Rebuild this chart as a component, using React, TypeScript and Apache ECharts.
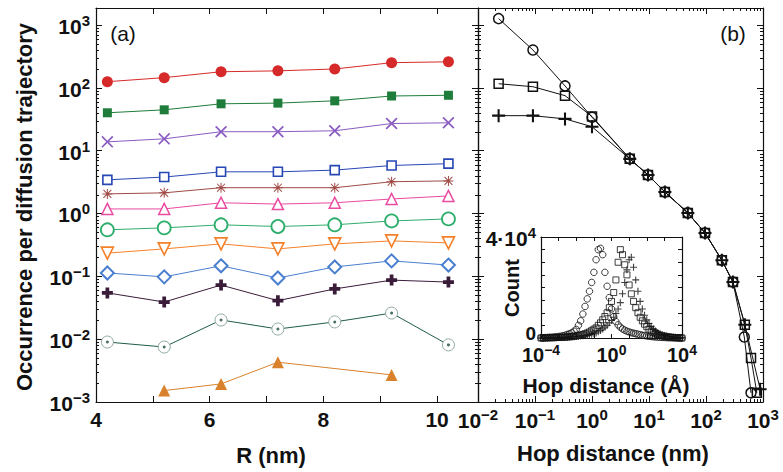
import React, { useEffect, useRef } from 'react';
import * as echarts from 'echarts';

const FONT = '"Liberation Sans", Arial, Helvetica, sans-serif';
const INK = '#111';

// ---------- Panel (a): occurrence vs R ----------
const radiusNm = [4.2, 5.2, 6.2, 7.2, 8.2, 9.2, 10.2];
const redCircles = [125, 145, 180, 186, 199, 251, 259];
const greenSquares = [40, 44.6, 55.6, 57, 62, 74, 76];
const purpleCrosses = [13.8, 15.4, 20, 20, 20.7, 27, 27.7];
const blueOpenSquares = [3.43, 3.8, 4.6, 4.6, 4.9, 5.8, 6.2];
const brownAsterisks = [2.05, 2.13, 2.57, 2.57, 2.57, 3.2, 3.3];
const pinkTriangles = [1.18, 1.18, 1.48, 1.41, 1.48, 1.7, 1.9];
const greenOpenCircles = [0.55, 0.59, 0.66, 0.62, 0.66, 0.76, 0.82];
const orangeDownTriangles = [0.234, 0.273, 0.328, 0.273, 0.328, 0.366, 0.34];
const blueDiamonds = [0.113, 0.098, 0.147, 0.094, 0.141, 0.176, 0.151];
const darkPluses = [0.0545, 0.039, 0.0725, 0.041, 0.063, 0.087, 0.081];
const dottedCircles = [0.009, 0.0075, 0.0202, 0.0145, 0.0188, 0.026, 0.0081];
const orangeTriRadius = [5.2, 6.2, 7.2, 9.2];
const orangeTriangles = [0.00152, 0.00194, 0.0043, 0.0027];

// ---------- Panel (b): occurrence vs hop distance ----------
const hopCircleX = [0.023, 0.092, 0.336, 1.0, 4.6, 9.6, 19, 48, 96, 190, 297, 470, 616];
const hopCircleY = [1260, 400, 107, 34, 7.4, 4.1, 2.2, 1.02, 0.49, 0.18, 0.081, 0.0108, 0.0014];
const hopSquareX = [0.023, 0.092, 0.336, 1.0, 4.6, 9.6, 19, 48, 96, 190, 297, 480, 616, 780];
const hopSquareY = [116, 104, 75, 35, 7.4, 4.1, 2.2, 1.02, 0.49, 0.18, 0.081, 0.017, 0.005, 0.0014];
const hopPlusX = [0.023, 0.092, 0.336, 1.0, 4.6, 9.6, 19, 48, 96, 190, 297, 480, 890];
const hopPlusY = [36, 36, 32, 24, 7.4, 4.1, 2.2, 1.02, 0.49, 0.18, 0.081, 0.017, 0.0016];

// ---------- Inset: histogram of hop distance (Å), counts in units of 10^4 ----------
const insetExp = [
  -4, -3.875, -3.75, -3.625, -3.5, -3.375, -3.25, -3.125, -3, -2.875, -2.75, -2.625, -2.5,
  -2.375, -2.25, -2.125, -2, -1.875, -1.75, -1.625, -1.5, -1.375, -1.25, -1.125, -1,
  -0.875, -0.75, -0.625, -0.5, -0.375, -0.25, -0.125, 0, 0.125, 0.25, 0.375, 0.5, 0.625,
  0.75, 0.875, 1, 1.125, 1.25, 1.375, 1.5, 1.625, 1.75, 1.875, 2, 2.125, 2.25, 2.375, 2.5,
  2.625, 2.75, 2.875, 3, 3.125, 3.25, 3.375, 3.5, 3.625, 3.75, 3.875, 4,
];
const insetCircles = [
  0.01, 0.01, 0.02, 0.02, 0.03, 0.03, 0.04, 0.05, 0.06, 0.07, 0.09, 0.11, 0.14, 0.17, 0.21, 0.27, 0.34,
  0.5, 0.68, 0.95, 1.25, 1.55, 1.85, 2.2, 2.6,
  3.1, 3.5, 3.55, 3.3, 2.6, 2.05, 1.6, 1.15,
  0.85, 0.65, 0.52, 0.43, 0.36, 0.31, 0.27, 0.24,
  0.21, 0.19, 0.17, 0.15, 0.13, 0.11, 0.1, 0.08,
  0.07, 0.06, 0.05, 0.04, 0.035, 0.03, 0.025, 0.02,
  0.015, 0.01, 0.01, 0.005, 0.005, 0, 0, 0,
];
const insetSquares = [
  0, 0, 0.005, 0.005, 0.01, 0.01, 0.015, 0.02, 0.02, 0.025, 0.03, 0.035, 0.04, 0.05, 0.06, 0.07, 0.08,
  0.1, 0.12, 0.14, 0.17, 0.2, 0.24, 0.29, 0.35,
  0.4, 0.5, 0.6, 0.72, 0.85, 1.0, 1.2, 1.45,
  1.8, 2.3, 3.0, 3.5, 3.3, 2.9, 2.5, 2.1,
  1.75, 1.45, 1.2, 1.0, 0.82, 0.68, 0.55, 0.45,
  0.35, 0.28, 0.22, 0.18, 0.14, 0.11, 0.09, 0.07,
  0.05, 0.04, 0.03, 0.02, 0.015, 0.01, 0.005, 0,
];
const insetPluses = [
  0, 0, 0, 0, 0.005, 0.005, 0.01, 0.01, 0.015, 0.015, 0.02, 0.025, 0.03, 0.035, 0.04, 0.05, 0.06,
  0.07, 0.08, 0.09, 0.1, 0.12, 0.13, 0.15, 0.17,
  0.2, 0.25, 0.3, 0.36, 0.43, 0.5, 0.6, 0.7,
  0.82, 0.97, 1.15, 1.4, 1.75, 2.2, 2.7, 3.1,
  3.2, 2.8, 2.3, 1.85, 1.45, 1.15, 0.9, 0.72,
  0.58, 0.46, 0.36, 0.28, 0.22, 0.17, 0.13, 0.1,
  0.08, 0.06, 0.045, 0.035, 0.025, 0.02, 0.01, 0.005,
];

// ---------- symbols ----------
const SYM_X = 'path://M0,1 L1,0 L5,4 L9,0 L10,1 L6,5 L10,9 L9,10 L5,6 L1,10 L0,9 L4,5 Z';
const SYM_PLUS_THICK = 'path://M3.3,0 H6.7 V3.3 H10 V6.7 H6.7 V10 H3.3 V6.7 H0 V3.3 H3.3 Z';
const SYM_PLUS_MED = 'path://M4.2,0 H5.8 V4.2 H10 V5.8 H5.8 V10 H4.2 V5.8 H0 V4.2 H4.2 Z';
const SYM_ASTER =
  'path://M4.5,0 H5.5 V10 H4.5 Z M0,4.5 H10 V5.5 H0 Z M0.7,1.4 L1.4,0.7 L9.3,8.6 L8.6,9.3 Z M8.6,0.7 L9.3,1.4 L1.4,9.3 L0.7,8.6 Z';
const SYM_TRI_DOWN = 'path://M0,0 L10,0 L5,8.66 Z';

const supRich = (b: number, s: number, lh = b + 3, pad = Math.round(b * 0.45)) => ({
  b: { fontSize: b, fontWeight: 'bold', fontFamily: FONT, color: INK, lineHeight: lh, verticalAlign: 'bottom' },
  s: { fontSize: s, fontWeight: 'bold', fontFamily: FONT, color: INK, lineHeight: s - 3, padding: [0, 0, pad, 0], verticalAlign: 'bottom' },
  z: { fontSize: 19, fontWeight: 'bold', fontFamily: FONT, color: INK, lineHeight: 12, padding: [0, 0, 9, 0] },
});

const powLabel = (v: number) => {
  const l = Math.log10(v);
  const e = Math.round(l);
  if (Math.abs(l - e) > 0.01) return '';
  const es = e < 0 ? '\u2212' + -e : String(e);
  return `{b|10}{s|${es}}`;
};

const axisLine = { show: true, onZero: false, lineStyle: { color: INK, width: 1.2 } };
const majorTick = (len = 6) => ({ show: true, inside: true, length: len, lineStyle: { color: INK, width: 1 } });
const noLabel = { show: false };
const noSplit = { show: false };

const minorLogValues = (lo: number, hi: number) => {
  const out: number[] = [];
  for (let n = lo; n <= hi; n++) for (let k = 2; k <= 9; k++) out.push(k * Math.pow(10, n));
  return out;
};

const yMinorTicks = (xIdx: number, yIdx: number, dummyX: number, vals: number[]) => ({
  type: 'custom',
  xAxisIndex: xIdx,
  yAxisIndex: yIdx,
  silent: true,
  clip: false,
  z: 1,
  data: vals.map((v) => [dummyX, v]),
  renderItem: (params: any, api: any) => {
    const cs = params.coordSys;
    const p = api.coord([api.value(0), api.value(1)]);
    const y = Math.round(p[1]) + 0.5;
    return {
      type: 'group',
      children: [
        { type: 'line', shape: { x1: cs.x, y1: y, x2: cs.x + 3, y2: y }, style: { stroke: INK, lineWidth: 1 } },
        { type: 'line', shape: { x1: cs.x + cs.width - 3, y1: y, x2: cs.x + cs.width, y2: y }, style: { stroke: INK, lineWidth: 1 } },
      ],
    };
  },
});

const xMinorTicks = (xIdx: number, yIdx: number, dummyY: number, vals: number[]) => ({
  type: 'custom',
  xAxisIndex: xIdx,
  yAxisIndex: yIdx,
  silent: true,
  clip: false,
  z: 1,
  data: vals.map((v) => [v, dummyY]),
  renderItem: (params: any, api: any) => {
    const cs = params.coordSys;
    const p = api.coord([api.value(0), api.value(1)]);
    const x = Math.round(p[0]) + 0.5;
    return {
      type: 'group',
      children: [
        { type: 'line', shape: { x1: x, y1: cs.y + cs.height, x2: x, y2: cs.y + cs.height - 3 }, style: { stroke: INK, lineWidth: 1 } },
        { type: 'line', shape: { x1: x, y1: cs.y, x2: x, y2: cs.y + 3 }, style: { stroke: INK, lineWidth: 1 } },
      ],
    };
  },
});

const panelA = (
  name: string,
  xs: number[],
  ys: number[],
  symbol: string,
  size: number,
  color: string,
  open: boolean,
  borderW = 1.5,
  z = 3,
) => ({
  type: 'line',
  name,
  xAxisIndex: 0,
  yAxisIndex: 0,
  z,
  data: xs.map((x, i) => [x, ys[i]]),
  symbol,
  symbolSize: size,
  showAllSymbol: true,
  lineStyle: { color, width: 1 },
  itemStyle: open
    ? { color: '#fff', borderColor: color, borderWidth: borderW }
    : { color, borderWidth: 0 },
});

const panelB = (name: string, xs: number[], ys: number[], symbol: string, size: number, open: boolean) => ({
  type: 'line',
  name,
  xAxisIndex: 2,
  yAxisIndex: 2,
  z: 3,
  data: xs.map((x, i) => [x, ys[i]]),
  symbol,
  symbolSize: size,
  showAllSymbol: true,
  lineStyle: { color: INK, width: 1 },
  itemStyle: open ? { color: 'rgba(255,255,255,0)', borderColor: INK, borderWidth: 1.5 } : { color: INK, borderWidth: 0 },
});

const insetSeries = (name: string, ys: number[], symbol: string, size: number, open: boolean) => ({
  type: 'scatter',
  name,
  xAxisIndex: 4,
  yAxisIndex: 4,
  z: 5,
  data: insetExp.map((e, i) => [Math.pow(10, e), ys[i]]),
  symbol,
  symbolSize: size,
  itemStyle: open ? { color: 'rgba(255,255,255,0)', borderColor: INK, borderWidth: 1 } : { color: INK, borderWidth: 0 },
});

export default function App() {
  const ref = useRef<HTMLDivElement>(null);

  useEffect(() => {
    if (!ref.current) return;
    const chart = echarts.init(ref.current, undefined, { renderer: 'svg' });

    const minorY = minorLogValues(-3, 2);
    const minorXb = minorLogValues(-2, 2);

    const option: any = {
      animation: false,
      backgroundColor: '#fff',
      grid: [
        { left: 96, top: 8, width: 382, height: 394, outerBoundsMode: 'none' },
        { left: 478, top: 8, width: 285, height: 394, outerBoundsMode: 'none' },
        { left: 541, top: 237, width: 141, height: 101, outerBoundsMode: 'none', show: true, backgroundColor: '#fff', borderWidth: 0, z: 4 },
      ],
      xAxis: [
        {
          gridIndex: 0, type: 'value', min: 4, max: 10.72, interval: 1, position: 'bottom',
          axisLine, axisTick: majorTick(6), splitLine: noSplit,
          axisLabel: {
            formatter: (v: number) => (Math.abs(v - Math.round(v)) < 1e-6 && Math.round(v) % 2 === 0 ? String(Math.round(v)) : ''),
            fontSize: 21, fontWeight: 'bold', fontFamily: FONT, color: INK, margin: 7,
          },
        },
        { gridIndex: 0, type: 'value', min: 4, max: 10.72, interval: 1, position: 'top', axisLine, axisTick: majorTick(6), axisLabel: noLabel, splitLine: noSplit },
        {
          gridIndex: 1, type: 'log', logBase: 10, min: 0.01, max: 1000, splitNumber: 5, position: 'bottom',
          axisLine, axisTick: majorTick(6), splitLine: noSplit,
          axisLabel: { formatter: powLabel, rich: supRich(21, 15), margin: 5 },
        },
        { gridIndex: 1, type: 'log', logBase: 10, min: 0.01, max: 1000, splitNumber: 5, position: 'top', axisLine, axisTick: majorTick(6), axisLabel: noLabel, splitLine: noSplit },
        {
          gridIndex: 2, type: 'log', logBase: 10, min: 1e-4, max: 1e4, splitNumber: 8, position: 'bottom', z: 6,
          axisLine, axisTick: majorTick(4), splitLine: noSplit,
          axisLabel: {
            formatter: (v: number) => {
              const e = Math.round(Math.log10(v));
              return e === -4 || e === 0 || e === 4 ? powLabel(v) : '';
            },
            rich: supRich(20, 14, 18, 8), margin: 9,
          },
        },
        { gridIndex: 2, type: 'log', logBase: 10, min: 1e-4, max: 1e4, splitNumber: 8, position: 'top', z: 6, axisLine, axisTick: majorTick(4), axisLabel: noLabel, splitLine: noSplit },
      ],
      yAxis: [
        {
          gridIndex: 0, type: 'log', logBase: 10, min: 0.001, max: 1860, splitNumber: 6, position: 'left',
          axisLine, axisTick: majorTick(6), splitLine: noSplit,
          axisLabel: { formatter: powLabel, rich: supRich(21, 15), margin: 6 },
        },
        { gridIndex: 0, type: 'log', logBase: 10, min: 0.001, max: 1860, splitNumber: 6, position: 'right', axisLine, axisTick: majorTick(6), axisLabel: noLabel, splitLine: noSplit },
        { gridIndex: 1, type: 'log', logBase: 10, min: 0.001, max: 1860, splitNumber: 6, position: 'left', axisLine, axisTick: majorTick(6), axisLabel: noLabel, splitLine: noSplit },
        { gridIndex: 1, type: 'log', logBase: 10, min: 0.001, max: 1860, splitNumber: 6, position: 'right', axisLine, axisTick: majorTick(6), axisLabel: noLabel, splitLine: noSplit },
        {
          gridIndex: 2, type: 'value', min: 0, max: 4, interval: 0.5, position: 'left', z: 6,
          axisLine, axisTick: majorTick(4), splitLine: noSplit,
          axisLabel: {
            formatter: (v: number) => (v === 0 ? '{z|0}' : v === 4 ? '{b|4\u00b710}{s|4}' : ''),
            rich: supRich(21, 15), margin: 5,
          },
        },
        { gridIndex: 2, type: 'value', min: 0, max: 4, interval: 0.5, position: 'right', z: 6, axisLine, axisTick: majorTick(4), axisLabel: noLabel, splitLine: noSplit },
      ],
      series: [
        yMinorTicks(0, 0, 5, minorY),
        yMinorTicks(2, 2, 1, minorY),
        xMinorTicks(2, 2, 1, minorXb),
        panelA('red', radiusNm, redCircles, 'circle', 11, '#d62a2a', false),
        panelA('green', radiusNm, greenSquares, 'rect', 9, '#1e7d3a', false),
        panelA('purple', radiusNm, purpleCrosses, SYM_X, 12, '#8a5cc2', false),
        panelA('blue', radiusNm, blueOpenSquares, 'rect', 9, '#2747b5', true, 1.6),
        panelA('brown', radiusNm, brownAsterisks, SYM_ASTER, 10, '#a04a46', false),
        panelA('pink', radiusNm, pinkTriangles, 'triangle', 11, '#ea4aa0', true, 1.5),
        panelA('greenOpen', radiusNm, greenOpenCircles, 'circle', 13, '#2eae6c', true, 1.8),
        panelA('orangeDown', radiusNm, orangeDownTriangles, SYM_TRI_DOWN, 12, '#f5802a', true, 1.6),
        panelA('diamond', radiusNm, blueDiamonds, 'diamond', 13, '#4a7fd0', true, 2),
        panelA('darkPlus', radiusNm, darkPluses, SYM_PLUS_THICK, 11, '#3a1c3a', false),
        {
          ...panelA('dotted', radiusNm, dottedCircles, 'circle', 12, '#1f5c4c', true, 1),
          itemStyle: { color: '#fff', borderColor: '#90aaa2', borderWidth: 1 },
        },
        {
          type: 'scatter', name: 'dottedCenters', xAxisIndex: 0, yAxisIndex: 0, z: 4,
          data: radiusNm.map((x, i) => [x, dottedCircles[i]]),
          symbol: 'circle', symbolSize: 3, itemStyle: { color: '#1a4a3e' },
        },
        panelA('orangeFilled', orangeTriRadius, orangeTriangles, 'triangle', 12, '#d9822b', false),
        panelB('circles', hopCircleX, hopCircleY, 'circle', 10, true),
        panelB('squares', hopSquareX, hopSquareY, 'rect', 9, true),
        panelB('pluses', hopPlusX, hopPlusY, SYM_PLUS_MED, 13, false),
        insetSeries('insetCircles', insetCircles, 'circle', 6.5, true),
        insetSeries('insetSquares', insetSquares, 'rect', 6, true),
        insetSeries('insetPluses', insetPluses, SYM_PLUS_MED, 7, false),
      ],
      graphic: [
        {
          type: 'text', x: 24, y: 207, rotation: Math.PI / 2,
          style: { text: 'Occurrence per diffusion trajectory', font: `bold 22px ${FONT}`, fill: INK, align: 'center', verticalAlign: 'middle', textAlign: 'center', textVerticalAlign: 'middle' },
        },
        {
          type: 'text', x: 271, y: 455,
          style: { text: 'R (nm)', font: `bold 22px ${FONT}`, fill: INK, align: 'center', verticalAlign: 'middle', textAlign: 'center', textVerticalAlign: 'middle' },
        },
        {
          type: 'text', x: 613, y: 453,
          style: { text: 'Hop distance (nm)', font: `bold 22px ${FONT}`, fill: INK, align: 'center', verticalAlign: 'middle', textAlign: 'center', textVerticalAlign: 'middle' },
        },
        {
          type: 'text', x: 123, y: 33,
          style: { text: '(a)', font: `21px ${FONT}`, fill: INK, align: 'center', verticalAlign: 'middle', textAlign: 'center', textVerticalAlign: 'middle' },
        },
        {
          type: 'text', x: 733, y: 33,
          style: { text: '(b)', font: `21px ${FONT}`, fill: INK, align: 'center', verticalAlign: 'middle', textAlign: 'center', textVerticalAlign: 'middle' },
        },
        {
          type: 'text', x: 512, y: 288, rotation: Math.PI / 2, z: 10,
          style: { text: 'Count', font: `bold 20px ${FONT}`, fill: INK, align: 'center', verticalAlign: 'middle', textAlign: 'center', textVerticalAlign: 'middle' },
        },
        {
          type: 'text', x: 606, y: 385, z: 10,
          style: { text: 'Hop distance (\u00c5)', font: `bold 21px ${FONT}`, fill: INK, align: 'center', verticalAlign: 'middle', textAlign: 'center', textVerticalAlign: 'middle' },
        },
      ],
    };

    chart.setOption(option);
    return () => chart.dispose();
  }, []);

  return <div ref={ref} style={{ position: 'fixed', left: 0, top: 0, width: 783, height: 472, background: '#fff' }} />;
}
